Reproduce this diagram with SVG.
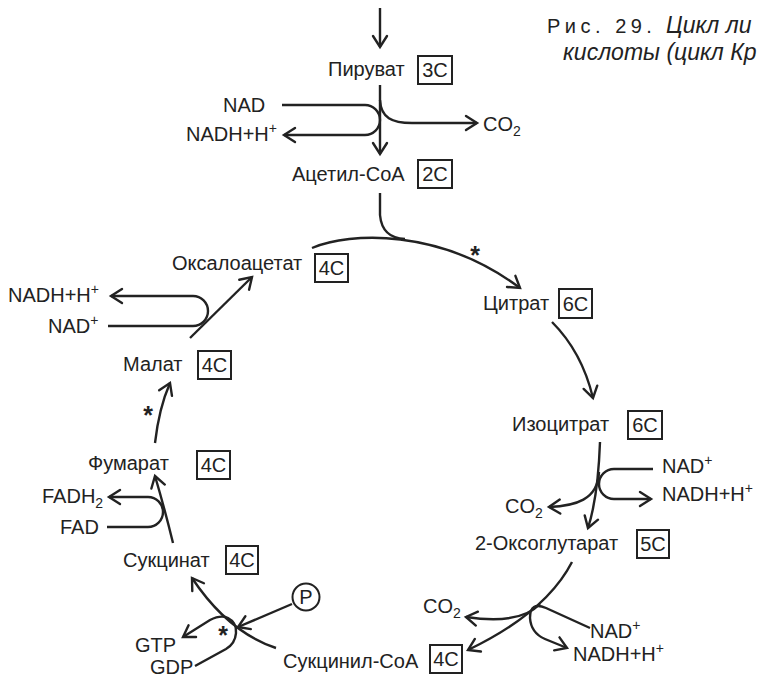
<svg xmlns="http://www.w3.org/2000/svg" width="758" height="679" viewBox="0 0 758 679">
  <defs>
    <marker id="arrow" markerUnits="userSpaceOnUse" viewBox="-13 -9 15 18" refX="0" refY="0" markerWidth="15" markerHeight="18" orient="auto" overflow="visible">
      <path d="M-11,-7 L0,0 L-11,7" fill="none" stroke="#222" stroke-width="2.4" stroke-linejoin="miter" stroke-linecap="round"/>
    </marker>
    <style>
      text { font-family: "Liberation Sans", Arial, sans-serif; font-size: 20px; fill: #222; }
      .sup, .sub { font-size: 14px; }
      .box { fill: none; stroke: #222; stroke-width: 2; }
      .bt { text-anchor: middle; }
      .link { fill: none; stroke: #222; stroke-width: 2.4; }
      .arr { marker-end: url(#arrow); }
      .it { font-style: italic; font-size: 23px; }
      .star { font-size: 25px; font-weight: bold; text-anchor: middle; }
    </style>
  </defs>
  <rect width="758" height="679" fill="#fff"/>

  <!-- caption -->
  <g id="caption">
    <text x="547" y="33" letter-spacing="4.5">Рис. 29.</text>
    <text x="666" y="33" class="it">Цикл ли</text>
    <text x="563" y="60" class="it">кислоты (цикл Кр</text>
  </g>

  <!-- connectors -->
  <g id="connectors">
    <path class="link arr" d="M380,8 V47"/>
    <path class="link arr" d="M380,85 V154"/>
    <path class="link arr" d="M282,105 H365 A15,15 0 0 1 365,135 H284"/>
    <path class="link arr" d="M380,100 C381,118 392,123 412,123 H477"/>
    <path class="link" d="M380,193 V215 Q382,238 405,239"/>
    <path class="link arr" d="M312,248 C350,232 440,228 520,288"/>
    <path class="link arr" d="M552,322 Q582,352 593,398"/>
    <path class="link arr" d="M600,442 C599,470 597,500 588,528"/>
    <path class="link arr" d="M653,469 H614 A15,15 0 0 0 614,499 H651"/>
    <path class="link arr" d="M599,472 C598,500 575,506 549,507"/>
    <path class="link arr" d="M572,562 C555,595 520,625 468,650"/>
    <path class="link arr" d="M540,604 Q520,625 466,617"/>
    <path class="link arr" d="M590,628 L546,608 Q530,601 530,618 Q531,633 545,639 L567,648"/>
    <path class="link arr" d="M276,648 Q228,632 192,578"/>
    <path class="link arr" d="M292,604 L238,627"/>
    <path class="link arr" d="M195,666 L226,649 C238,642 240,624 228,618 C222,615 216,617 210,620 L183,637"/>
    <path class="link arr" d="M173,543 Q165,510 155,476"/>
    <path class="link arr" d="M107,527 H148 A15,15 0 0 0 148,497 H109"/>
    <path class="link arr" d="M155,443 Q159,408 170,383"/>
    <path class="link arr" d="M190,338 L252,277"/>
    <path class="link arr" d="M108,326 H193 A15,15 0 0 0 193,296 H111"/>
  </g>

  <!-- enzyme marks -->
  <g id="marks">
    <text class="star" x="475" y="264">*</text>
    <text class="star" x="148" y="424">*</text>
    <text class="star" x="223" y="644">*</text>
  </g>

  <!-- metabolites -->
  <g id="pyruvate">
    <text x="328" y="76">Пируват</text>
    <rect class="box" x="418" y="56" width="34" height="28"/>
    <text class="bt" x="435" y="77">3C</text>
  </g>
  <g id="acetyl-coa">
    <text x="292" y="181">Ацетил-CoA</text>
    <rect class="box" x="418" y="160" width="34" height="28"/>
    <text class="bt" x="435" y="181">2C</text>
  </g>
  <g id="citrate">
    <text x="483" y="310">Цитрат</text>
    <rect class="box" x="559" y="289" width="33" height="29"/>
    <text class="bt" x="575.5" y="311">6C</text>
  </g>
  <g id="isocitrate">
    <text x="512" y="431">Изоцитрат</text>
    <rect class="box" x="628" y="411" width="34" height="28"/>
    <text class="bt" x="645" y="432">6C</text>
  </g>
  <g id="oxoglutarate">
    <text x="475" y="550">2-Оксоглутарат</text>
    <rect class="box" x="637" y="530" width="32" height="28"/>
    <text class="bt" x="653" y="551">5C</text>
  </g>
  <g id="succinyl-coa">
    <text x="283" y="668">Сукцинил-CoA</text>
    <rect class="box" x="430" y="645" width="32" height="28"/>
    <text class="bt" x="446" y="666">4C</text>
  </g>
  <g id="succinate">
    <text x="123" y="567">Сукцинат</text>
    <rect class="box" x="226" y="546" width="32" height="28"/>
    <text class="bt" x="242" y="567">4C</text>
  </g>
  <g id="fumarate">
    <text x="88" y="470">Фумарат</text>
    <rect class="box" x="197" y="451" width="33" height="28"/>
    <text class="bt" x="213.5" y="472">4C</text>
  </g>
  <g id="malate">
    <text x="123" y="371">Малат</text>
    <rect class="box" x="198" y="351" width="33" height="28"/>
    <text class="bt" x="214.5" y="372">4C</text>
  </g>
  <g id="oxaloacetate">
    <text x="172" y="270">Оксалоацетат</text>
    <rect class="box" x="315" y="254" width="33" height="28"/>
    <text class="bt" x="331.5" y="275">4C</text>
  </g>

  <!-- cofactors -->
  <g id="pdh-cofactors">
    <text x="223" y="112">NAD</text>
    <text x="186" y="141">NADH+H<tspan class="sup" dy="-8">+</tspan></text>
    <text x="483" y="131">CO<tspan class="sub" dy="5">2</tspan></text>
  </g>
  <g id="idh-cofactors">
    <text x="662" y="473">NAD<tspan class="sup" dy="-8">+</tspan></text>
    <text x="662" y="501">NADH+H<tspan class="sup" dy="-8">+</tspan></text>
    <text x="505" y="513">CO<tspan class="sub" dy="5">2</tspan></text>
  </g>
  <g id="ogdh-cofactors">
    <text x="423" y="613">CO<tspan class="sub" dy="5">2</tspan></text>
    <text x="590" y="638">NAD<tspan class="sup" dy="-8">+</tspan></text>
    <text x="573" y="661">NADH+H<tspan class="sup" dy="-8">+</tspan></text>
  </g>
  <g id="scs-cofactors">
    <circle cx="306" cy="597" r="13.5" fill="none" stroke="#222" stroke-width="2"/>
    <text class="bt" x="306" y="604">P</text>
    <text x="135" y="652">GTP</text>
    <text x="150" y="674">GDP</text>
  </g>
  <g id="sdh-cofactors">
    <text x="42" y="503">FADH<tspan class="sub" dy="5">2</tspan></text>
    <text x="60" y="534">FAD</text>
  </g>
  <g id="mdh-cofactors">
    <text x="8" y="302">NADH+H<tspan class="sup" dy="-8">+</tspan></text>
    <text x="48" y="333">NAD<tspan class="sup" dy="-8">+</tspan></text>
  </g>
</svg>
